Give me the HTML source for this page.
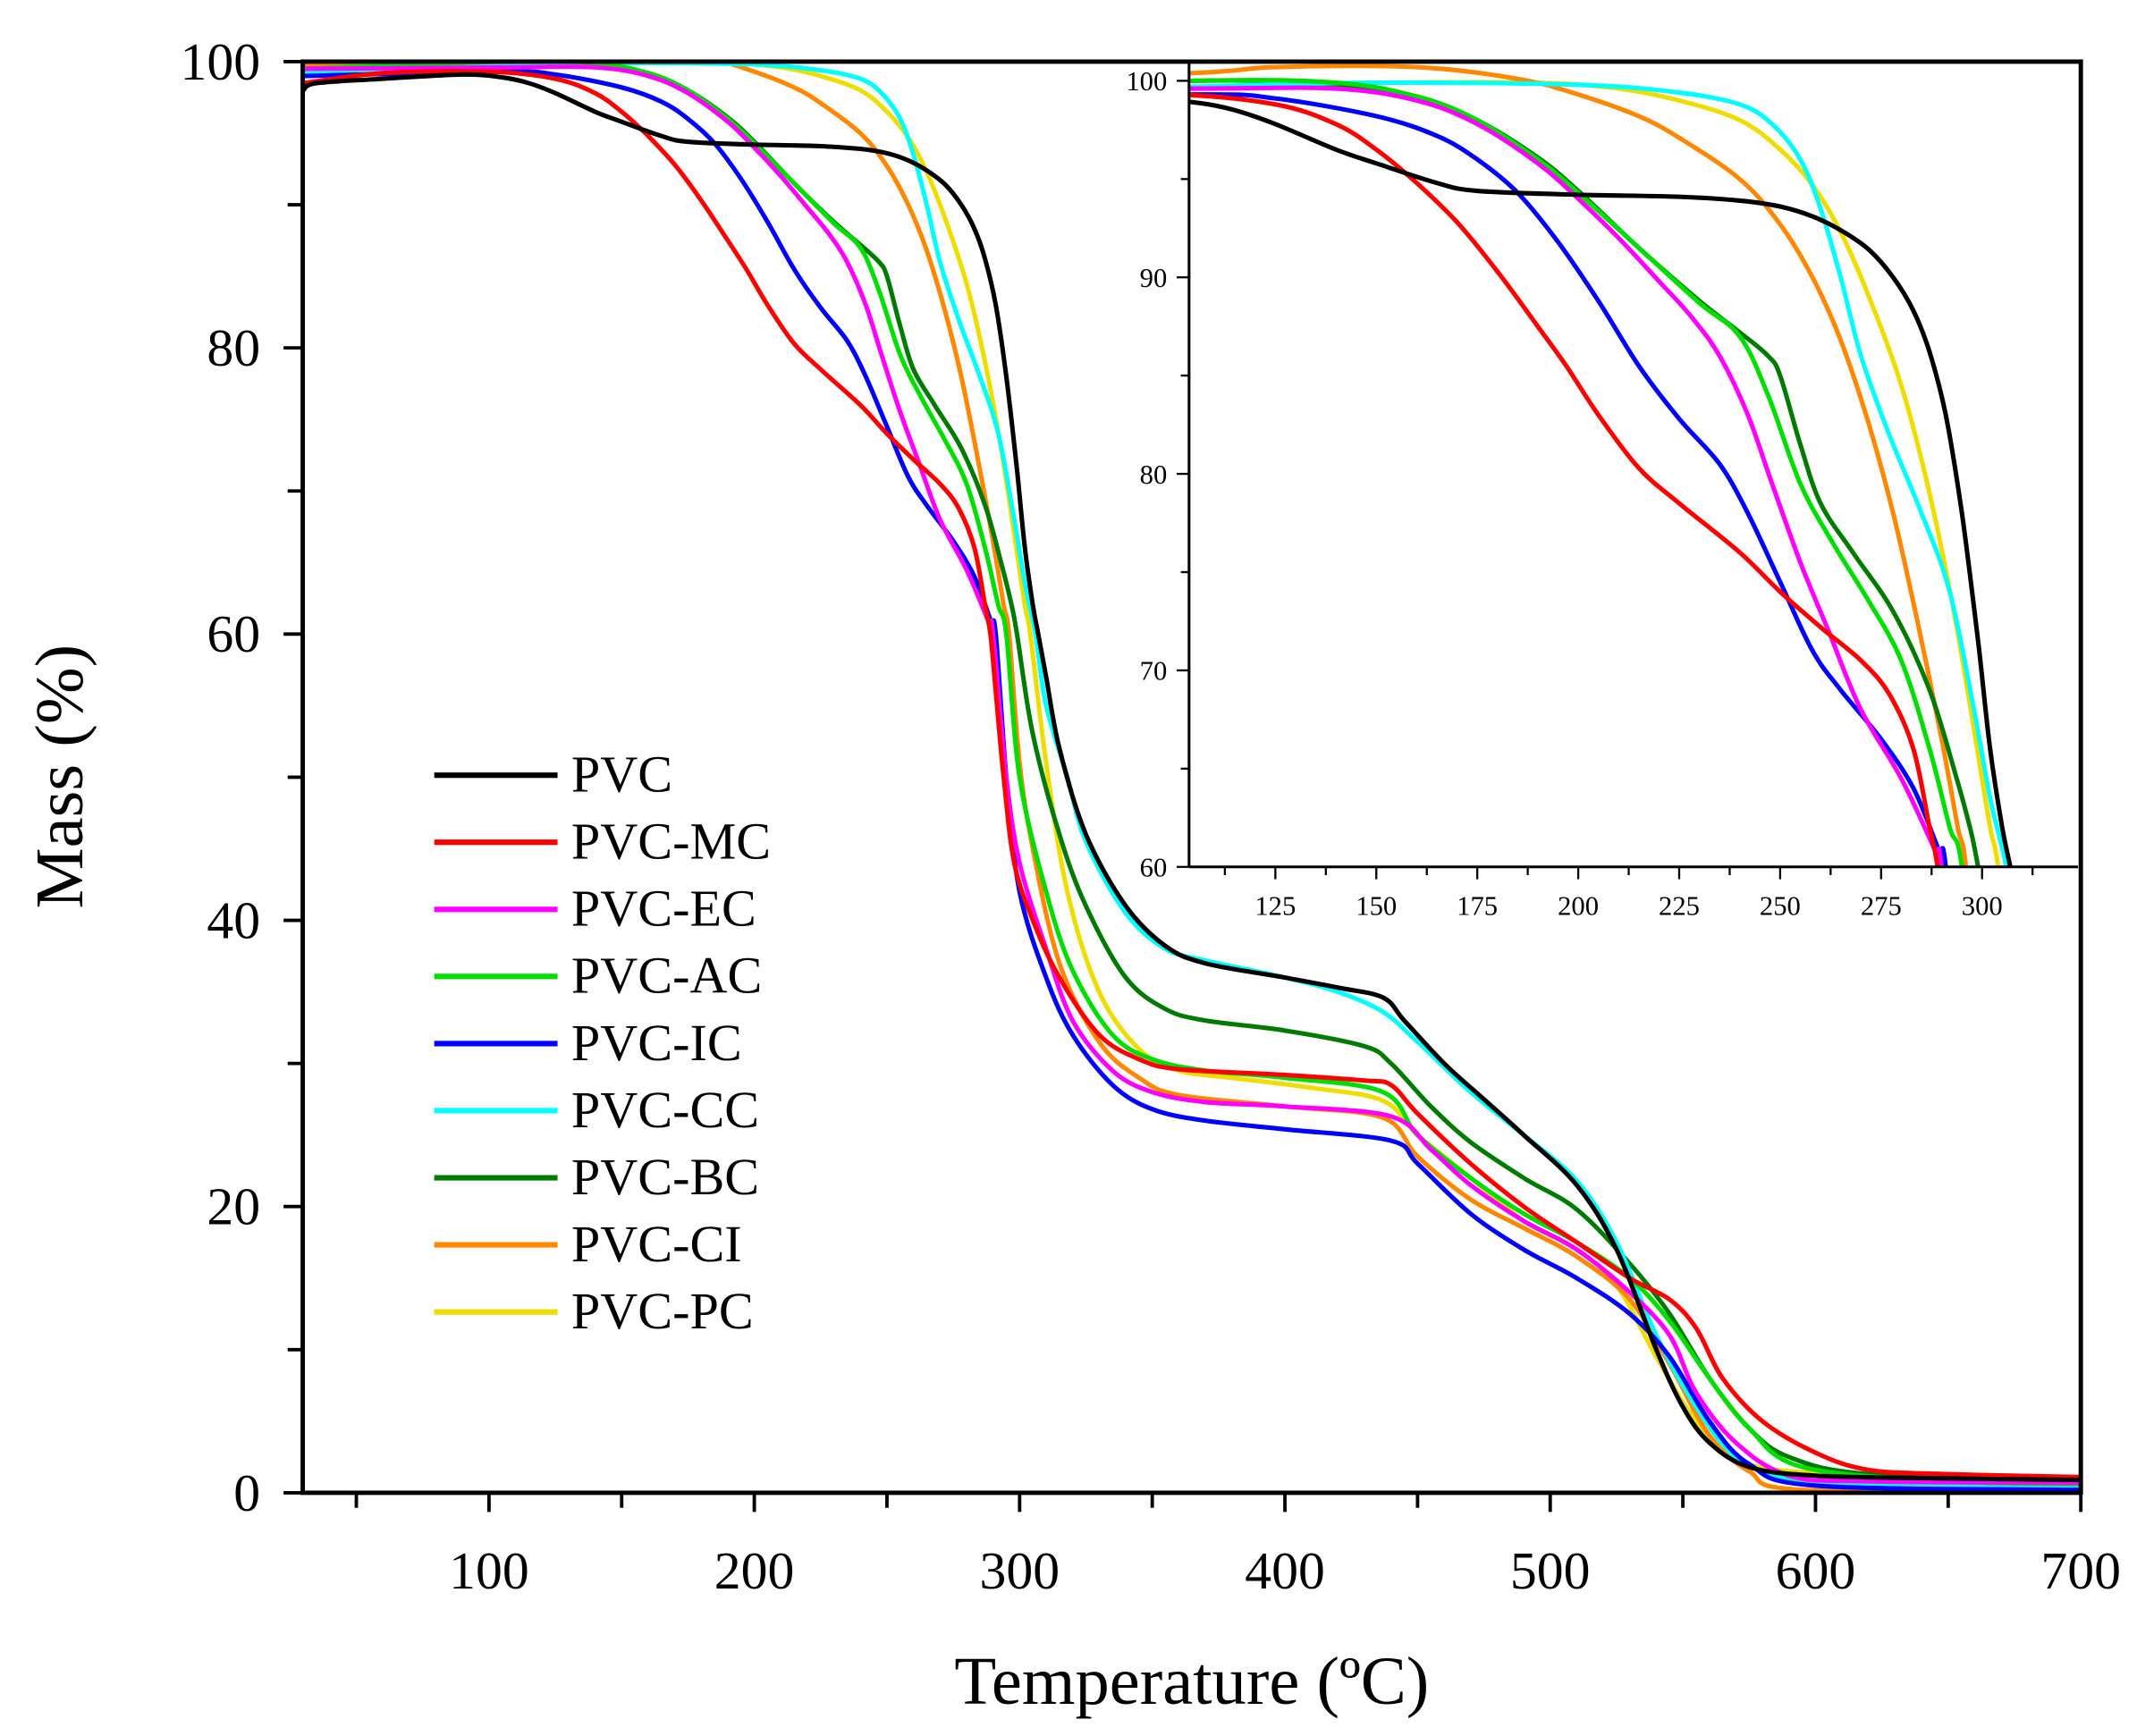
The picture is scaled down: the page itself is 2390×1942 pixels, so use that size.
<!DOCTYPE html>
<html><head><meta charset="utf-8"><style>
html,body{margin:0;padding:0;background:#fff;overflow:hidden;width:2390px;height:1942px}
svg{display:block}
text{font-family:"Liberation Serif",serif;fill:#000}
</style></head><body>
<svg id="s" width="2390" height="1942" viewBox="0 0 1560 1267.6" preserveAspectRatio="none" xmlns="http://www.w3.org/2000/svg">
<defs>
<clipPath id="cm"><rect x="221" y="45" width="1298" height="1045"/></clipPath>
<clipPath id="ci"><rect x="868" y="45" width="649" height="588"/></clipPath>
</defs>
<rect width="1560" height="1268" fill="#fff"/>
<g id="main" clip-path="url(#cm)"></g>
<rect x="868" y="45" width="649" height="588" fill="#fff"/>
<g id="ins" clip-path="url(#ci)"></g>
<g id="axes" stroke="#000" fill="none"></g>
<g id="labels"></g>
<text x="870" y="1244" font-size="50" text-anchor="middle">Temperature (ºC)</text>
<text transform="translate(60,567) rotate(-90)" font-size="50" text-anchor="middle">Mass (%)</text>
</svg>
<script>
var NS="http://www.w3.org/2000/svg";
function el(p,t,a,txt){var e=document.createElementNS(NS,t);for(var k in a)e.setAttribute(k,a[k]);if(txt!==undefined)e.textContent=txt;p.appendChild(e);return e;}
var S={
PVC:["#000",[[30,98],[35,98.5],[60,98.8],[90,99.1],[105,98.9],[115,98.5],[125,97.8],[140,96.5],[150,95.8],[165,94.8],[175,94.4],[200,94.2],[225,94.1],[240,93.9],[250,93.6],[258,93.1],[265,92.4],[272,91.4],[278,90],[283,88.3],[287,86.2],[291,83],[295,78],[299,71.5],[302,66],[305,62],[307,60],[310,57],[315,52],[325,46],[340,41],[355,38.2],[370,37],[400,36],[420,35.3],[437,34.6],[445,33],[460,30],[475,27.5],[490,25],[510,21.5],[525,17],[540,10],[550,6],[560,3.5],[575,1.8],[600,1.2],[650,1],[700,0.9]]],
"PVC-MC":["#ff0000",[[30,98.5],[60,99.2],[100,99.3],[125,98.8],[140,97.8],[150,96.5],[160,94.8],[170,92.8],[180,90.3],[190,87.5],[197,85.5],[205,83],[215,80.3],[225,78.5],[240,76],[250,74],[260,72.2],[270,70.5],[277,68.8],[283,66],[287,62],[289,60],[291,56],[294,50],[298,44],[305,40],[315,36],[330,32],[345,30.3],[360,29.6],[400,29.2],[430,28.8],[440,28.5],[450,26.5],[470,23],[490,20],[510,17.5],[530,15],[545,13.5],[555,11.5],[565,8],[580,5],[600,2.8],[620,1.6],[650,1.3],[700,1.1]]],
"PVC-EC":["#ff00ff",[[30,99.5],[105,99.6],[140,99.6],[160,99],[175,97.8],[190,95.8],[200,94],[210,92],[220,89.8],[228,88],[235,86],[242,83],[248,79.5],[255,75.5],[262,72],[270,68],[280,64.5],[288,61],[290,60],[295,50],[300,44],[310,38],[320,33],[335,29.5],[350,28],[370,27.3],[400,27],[440,26.3],[455,24],[470,21.5],[490,19],[510,17],[530,14],[545,11],[555,7],[570,3.5],[590,1.2],[620,0.8],[700,0.7]]],
"PVC-AC":["#00dd00",[[30,99.5],[105,100],[140,99.9],[160,99.2],[175,98],[190,96],[200,94.3],[215,91.5],[230,88.7],[240,87],[247,84],[255,79.5],[263,76.5],[272,73.5],[280,70.5],[287,66],[292,62],[295,60],[300,50],[310,42],[320,36.5],[335,32],[350,30.3],[370,29.5],[400,29],[437,28],[450,25],[470,22],[490,19.5],[510,17.5],[530,15],[545,12],[560,8],[575,4.5],[595,1.8],[650,0.8],[700,0.6]]],
"PVC-IC":["#0000ff",[[30,99],[105,99.3],[125,99.1],[150,98.2],[165,97.2],[175,96],[185,94.3],[195,91.8],[205,88.8],[215,85.5],[225,82.8],[235,80.5],[242,78],[250,74.5],[258,71],[265,69],[275,66.5],[283,64],[289,61],[291,60],[295,50],[300,42],[310,36],[320,32],[335,28.5],[350,26.8],[370,26],[400,25.4],[440,24.6],[450,23],[470,19.5],[490,17],[510,15],[530,12.5],[545,9.5],[560,5],[575,2],[600,0.5],[700,0.2]]],
"PVC-CC":["#00ffff",[[30,99.2],[105,99.7],[150,99.9],[200,99.8],[225,99.4],[240,98.8],[248,97.8],[255,96],[260,93.5],[265,90],[270,86],[277,82],[285,78],[292,74],[298,68],[302,63.5],[306,60],[310,55],[318,50],[325,45.5],[340,40.5],[355,38],[370,37.2],[400,36],[420,35],[437,33.6],[450,31.5],[470,28],[490,25],[510,21.8],[525,17.5],[540,11],[555,6],[570,2.5],[590,1],[620,0.6],[700,0.5]]],
"PVC-BC":["#007a00",[[30,99.4],[105,100],[140,99.8],[160,99.2],[175,98],[190,96.1],[200,94.4],[215,91.5],[230,88.8],[240,87.2],[247,86],[250,85],[255,81.5],[260,78.5],[268,76],[278,73],[287,69],[293,65],[297,62],[299,60],[305,53],[315,46],[325,41],[340,36],[355,33.8],[370,33],[400,32.3],[430,31.2],[440,30],[455,27],[470,24.5],[490,22],[510,19.8],[530,16],[545,12.5],[560,8],[575,4.5],[590,2.5],[620,1.3],[700,0.7]]],
"PVC-CI":["#ff8800",[[30,99.8],[105,100.4],[125,100.7],[160,100.7],[185,100.1],[200,99.3],[215,98.2],[225,97.1],[240,95],[250,92.7],[258,90],[265,86.8],[272,82.5],[278,78],[284,72.5],[290,66.5],[294,62],[296,60],[300,51],[305,45],[315,37],[330,31.5],[345,29],[360,27.8],[400,27],[437,26.2],[450,23.5],[470,20.5],[490,18.5],[510,16.5],[530,13.5],[545,9],[560,4],[575,1.5],[595,0.2],[700,0.1]]],
"PVC-PC":["#eedd00",[[30,99.7],[105,99.7],[150,99.9],[190,99.9],[210,99.6],[225,99],[240,98],[250,96.5],[258,94.7],[265,92.3],[272,89],[280,84.5],[287,79],[293,73],[298,67],[302,62],[304,60],[310,51],[318,42],[330,35],[345,31],[360,29.5],[380,29],[410,28.3],[437,27.4],[450,25],[470,22],[490,19],[510,17],[525,14.5],[540,9.5],[555,5],[570,2.5],[590,1.5],[650,1.2],[700,1.1]]]
};
function mx(t){return 163.3+t*1.9367} function my(m){return 1090-m*10.45}
function ix(t){return 931+(t-125)*2.948} function iy(m){return 633-(m-60)*14.35}
function path(pts,fx,fy){var P=pts.map(function(p){return [fx(p[0]),fy(p[1])]});
var d="M"+P[0][0].toFixed(1)+","+P[0][1].toFixed(1);
for(var i=0;i<P.length-1;i++){var p0=P[i-1]||P[i],p1=P[i],p2=P[i+1],p3=P[i+2]||P[i+1];
var c1x=p1[0]+(p2[0]-p0[0])/6,c1y=p1[1]+(p2[1]-p0[1])/6,c2x=p2[0]-(p3[0]-p1[0])/6,c2y=p2[1]-(p3[1]-p1[1])/6;
d+="C"+c1x.toFixed(1)+","+c1y.toFixed(1)+" "+c2x.toFixed(1)+","+c2y.toFixed(1)+" "+p2[0].toFixed(1)+","+p2[1].toFixed(1);}
return d;}
var main=document.getElementById("main"),ins=document.getElementById("ins"),ax=document.getElementById("axes"),lb=document.getElementById("labels");
var order=["PVC","PVC-MC","PVC-EC","PVC-AC","PVC-IC","PVC-CC","PVC-BC","PVC-CI","PVC-PC"];
order.slice().reverse().forEach(function(k){var c=S[k][0],p=S[k][1];
el(main,"path",{d:path(p,mx,my),stroke:c,"stroke-width":3.3,fill:"none","stroke-linejoin":"round"});
el(ins,"path",{d:path(p,ix,iy),stroke:c,"stroke-width":3.3,fill:"none","stroke-linejoin":"round"});});
el(ax,"rect",{x:221,y:45,width:1298,height:1045,"stroke-width":3.2});
for(var t=50;t<=700;t+=50){var x=mx(t);el(ax,"line",{x1:x,y1:1090,x2:x,y2:t%100?1101:1104,"stroke-width":2.5});
if(t%100==0)el(lb,"text",{x:x,y:1160,"font-size":39,"text-anchor":"middle"},t);}
for(var m=0;m<=100;m+=10){var y=my(m);el(ax,"line",{x1:221,y1:y,x2:m%20?210:207,y2:y,"stroke-width":2.5});
if(m%20==0)el(lb,"text",{x:190,y:y+13,"font-size":39,"text-anchor":"end"},m);}
el(ax,"line",{x1:868,y1:45,x2:868,y2:633,"stroke-width":2});
el(ax,"line",{x1:868,y1:633,x2:1517,y2:633,"stroke-width":2});
for(var t=112.5;t<=320;t+=12.5){var x=ix(t);var maj=(t%25==0);el(ax,"line",{x1:x,y1:633,x2:x,y2:maj?642:639,"stroke-width":1.5});
if(maj)el(lb,"text",{x:x,y:668,"font-size":20,"text-anchor":"middle"},t);}
for(var m=60;m<=100;m+=5){var y=iy(m);el(ax,"line",{x1:868,y1:y,x2:m%10?862:859,y2:y,"stroke-width":1.5});
if(m%10==0)el(lb,"text",{x:852,y:y+7,"font-size":20,"text-anchor":"end"},m);}
order.forEach(function(k,i){var y=566+i*49;el(lb,"line",{x1:317,y1:y,x2:407,y2:y,stroke:S[k][0],"stroke-width":4});
el(lb,"text",{x:417,y:y+12,"font-size":38},k);});
</script>
</body></html>
